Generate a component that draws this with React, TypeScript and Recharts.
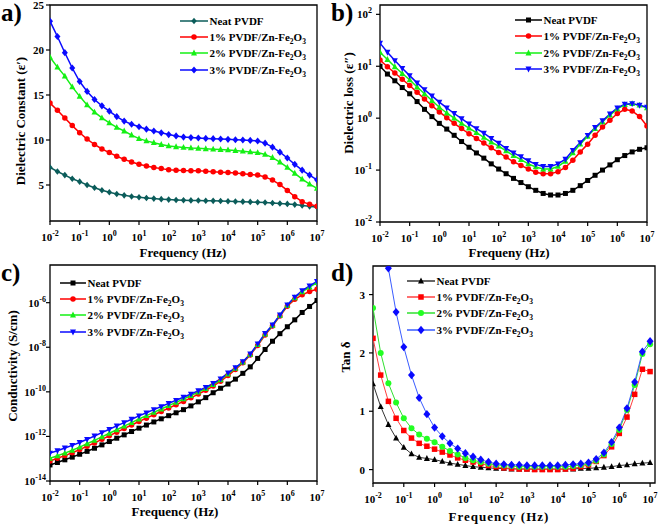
import { LineChart, Line, XAxis, YAxis, Legend, ReferenceArea } from 'recharts';

const SERIF = '"Liberation Serif", "Times New Roman", serif';

// log10 of the frequency (Hz), one reading every quarter decade
const FREQ_LOG = [
  -2, -1.75, -1.5, -1.25, -1, -0.75, -0.5, -0.25, 0, 0.25, 0.5, 0.75, 1, 1.25, 1.5, 1.75, 2, 2.25, 2.5,
  2.75, 3, 3.25, 3.5, 3.75, 4, 4.25, 4.5, 4.75, 5, 5.25, 5.5, 5.75, 6, 6.25, 6.5, 6.75, 7,
];
const X_TICKS = [-2, -1, 0, 1, 2, 3, 4, 5, 6, 7];
const SERIES_NAMES = ['Neat PVDF', '1% PVDF/Zn-Fe2O3', '2% PVDF/Zn-Fe2O3', '3% PVDF/Zn-Fe2O3'];

// a) dielectric constant
const EPS_NEAT = [6.95, 6.5, 6.1, 5.7, 5.37, 5.0, 4.7, 4.42, 4.19, 4.0, 3.85, 3.73, 3.64, 3.56, 3.49, 3.43, 3.38, 3.34, 3.31, 3.29, 3.27, 3.25, 3.24, 3.22, 3.2, 3.17, 3.15, 3.12, 3.09, 3.05, 3.0, 2.95, 2.9, 2.82, 2.72, 2.63, 2.54];
const EPS_1 = [14.1, 13.3, 12.45, 11.6, 10.8, 10.1, 9.5, 9.0, 8.6, 8.2, 7.85, 7.55, 7.3, 7.1, 6.95, 6.82, 6.7, 6.65, 6.6, 6.59, 6.58, 6.52, 6.47, 6.43, 6.4, 6.33, 6.25, 6.18, 6.1, 5.9, 5.55, 5.05, 4.4, 3.7, 3.15, 2.85, 2.65];
const EPS_2 = [19.2, 18.1, 17.1, 15.9, 14.85, 13.9, 13.1, 12.45, 11.9, 11.4, 11.0, 10.55, 10.15, 9.9, 9.7, 9.5, 9.34, 9.25, 9.18, 9.12, 9.08, 9.03, 8.98, 8.94, 8.9, 8.83, 8.76, 8.68, 8.6, 8.4, 8.05, 7.55, 6.95, 6.3, 5.65, 5.1, 4.64];
const EPS_3 = [23.2, 21.5, 19.7, 18.0, 16.5, 15.4, 14.5, 13.8, 13.2, 12.6, 12.1, 11.75, 11.47, 11.2, 11.0, 10.8, 10.6, 10.45, 10.33, 10.27, 10.22, 10.18, 10.15, 10.11, 10.07, 10.03, 10.0, 9.95, 9.89, 9.65, 9.2, 8.65, 8.0, 7.3, 6.65, 6.1, 5.58];

// b) dielectric loss, log10 values
const LOSS_NEAT = [1.0, 0.85, 0.72, 0.59, 0.47, 0.32, 0.17, 0.03, -0.1, -0.21, -0.33, -0.45, -0.56, -0.67, -0.77, -0.88, -0.98, -1.07, -1.16, -1.24, -1.32, -1.39, -1.45, -1.48, -1.48, -1.45, -1.39, -1.3, -1.2, -1.1, -1.0, -0.9, -0.8, -0.72, -0.65, -0.6, -0.57];
const LOSS_1 = [1.12, 0.99, 0.87, 0.75, 0.63, 0.5, 0.37, 0.24, 0.12, 0.01, -0.1, -0.2, -0.3, -0.39, -0.48, -0.57, -0.66, -0.75, -0.84, -0.91, -0.98, -1.04, -1.07, -1.07, -1.03, -0.95, -0.81, -0.65, -0.5, -0.33, -0.17, -0.04, 0.09, 0.17, 0.14, 0.03, -0.15];
const LOSS_2 = [1.27, 1.13, 0.99, 0.86, 0.74, 0.6, 0.47, 0.34, 0.21, 0.1, 0.0, -0.1, -0.19, -0.28, -0.37, -0.46, -0.54, -0.63, -0.72, -0.8, -0.88, -0.94, -0.98, -0.98, -0.93, -0.83, -0.67, -0.5, -0.35, -0.2, -0.07, 0.06, 0.18, 0.26, 0.28, 0.25, 0.2];
const LOSS_3 = [1.445, 1.27, 1.11, 0.96, 0.82, 0.68, 0.55, 0.43, 0.31, 0.2, 0.09, -0.01, -0.11, -0.2, -0.29, -0.39, -0.48, -0.58, -0.67, -0.74, -0.82, -0.89, -0.93, -0.93, -0.88, -0.79, -0.62, -0.47, -0.33, -0.18, -0.05, 0.08, 0.2, 0.27, 0.28, 0.25, 0.21];

// c) conductivity (S/cm), log10 values
const COND_NEAT = [-13.28, -13.17, -13.05, -12.93, -12.8, -12.67, -12.53, -12.38, -12.23, -12.08, -11.93, -11.78, -11.63, -11.49, -11.35, -11.21, -11.07, -10.94, -10.8, -10.63, -10.45, -10.26, -10.04, -9.84, -9.65, -9.43, -9.17, -8.88, -8.5, -8.1, -7.73, -7.39, -7.08, -6.77, -6.44, -6.17, -5.9];
const COND_1 = [-13.1, -12.98, -12.86, -12.73, -12.59, -12.44, -12.29, -12.13, -11.97, -11.81, -11.65, -11.49, -11.33, -11.18, -11.03, -10.88, -10.73, -10.58, -10.43, -10.27, -10.1, -9.93, -9.74, -9.52, -9.27, -9.0, -8.7, -8.35, -7.92, -7.45, -7.05, -6.6, -6.16, -5.85, -5.65, -5.5, -5.4];
const COND_2 = [-12.98, -12.87, -12.75, -12.62, -12.48, -12.33, -12.18, -12.02, -11.86, -11.7, -11.54, -11.38, -11.22, -11.07, -10.92, -10.77, -10.62, -10.47, -10.32, -10.17, -10.01, -9.85, -9.67, -9.46, -9.2, -8.95, -8.67, -8.32, -7.88, -7.41, -7.02, -6.57, -6.12, -5.78, -5.52, -5.3, -5.1];
const COND_3 = [-12.75, -12.64, -12.52, -12.4, -12.27, -12.13, -11.98, -11.83, -11.68, -11.53, -11.38, -11.23, -11.08, -10.94, -10.8, -10.66, -10.52, -10.38, -10.24, -10.1, -9.95, -9.8, -9.62, -9.42, -9.15, -8.92, -8.65, -8.3, -7.85, -7.38, -7.0, -6.55, -6.1, -5.75, -5.46, -5.25, -5.05];

// d) tan delta
const TAN_NEAT = [1.47, 1.08, 0.77, 0.54, 0.38, 0.27, 0.21, 0.19, 0.17, 0.14, 0.11, 0.09, 0.07, 0.05, 0.04, 0.03, 0.02, 0.02, 0.01, 0.01, 0.01, 0.01, 0.01, 0.01, 0.01, 0.01, 0.01, 0.02, 0.02, 0.03, 0.04, 0.05, 0.07, 0.08, 0.1, 0.11, 0.12];
const TAN_1 = [2.25, 1.62, 1.17, 0.88, 0.67, 0.54, 0.45, 0.4, 0.35, 0.3, 0.25, 0.2, 0.16, 0.13, 0.1, 0.07, 0.05, 0.03, 0.02, 0.01, 0.01, 0.0, 0.0, 0.0, 0.0, 0.01, 0.02, 0.05, 0.08, 0.14, 0.24, 0.39, 0.62, 0.9, 1.29, 1.72, 1.68];
const TAN_2 = [2.77, 2.0, 1.48, 1.15, 0.88, 0.71, 0.6, 0.53, 0.47, 0.39, 0.32, 0.26, 0.2, 0.16, 0.13, 0.1, 0.08, 0.07, 0.06, 0.05, 0.05, 0.05, 0.05, 0.05, 0.05, 0.05, 0.06, 0.08, 0.1, 0.15, 0.26, 0.44, 0.68, 1.02, 1.45, 1.98, 2.15];
const TAN_3 = [4.6, 4.0, 3.45, 2.7, 2.1, 1.62, 1.23, 0.95, 0.72, 0.57, 0.45, 0.36, 0.28, 0.22, 0.17, 0.13, 0.1, 0.09, 0.08, 0.08, 0.07, 0.07, 0.07, 0.07, 0.07, 0.08, 0.09, 0.1, 0.12, 0.18, 0.29, 0.47, 0.72, 1.05, 1.5, 2.02, 2.2];

type Shape = 'circle' | 'square' | 'up' | 'down' | 'diamond';
interface SeriesStyle {
  color: string;
  line: string;
  shape: Shape;
  size: number;
}

const Marker = ({ cx, cy, shape, size, color }: { cx: number; cy: number; shape: Shape; size: number; color: string }) => {
  const h = size / 2;
  if (cx == null || cy == null) return null;
  switch (shape) {
    case 'circle':
      return <circle cx={cx} cy={cy} r={h} fill={color} />;
    case 'square':
      return <rect x={cx - h} y={cy - h} width={size} height={size} fill={color} />;
    case 'up':
      return <polygon points={`${cx},${cy - h * 1.15} ${cx + h},${cy + h * 0.8} ${cx - h},${cy + h * 0.8}`} fill={color} />;
    case 'down':
      return <polygon points={`${cx},${cy + h * 1.15} ${cx + h},${cy - h * 0.8} ${cx - h},${cy - h * 0.8}`} fill={color} />;
    default:
      return <polygon points={`${cx},${cy - h * 1.2} ${cx + h},${cy} ${cx},${cy + h * 1.2} ${cx - h},${cy}`} fill={color} />;
  }
};

const chem = (s: string) =>
  s.split(/(?<=[A-Za-z])(\d)/).map((part, i) =>
    i % 2 ? (
      <span key={i} style={{ fontSize: 7.5, position: 'relative', top: 3 }}>{part}</span>
    ) : (
      <span key={i}>{part}</span>
    ),
  );

const toRows = (cols: number[][]) =>
  FREQ_LOG.map((f, i) => ({ f, s0: cols[0][i], s1: cols[1][i], s2: cols[2][i], s3: cols[3][i] }));

const XTick = (props: any) => {
  const { x, y, payload } = props;
  return (
    <text x={x} y={y + 13.5} textAnchor="middle" fontFamily={SERIF} fontWeight={700} fontSize={11} fill="#000">
      <tspan>10</tspan>
      <tspan dy={-5} fontSize={8}>{payload.value}</tspan>
    </text>
  );
};

const LinYTick = (props: any) => {
  const { x, y, payload } = props;
  return (
    <text x={x} y={y + 4} textAnchor="end" fontFamily={SERIF} fontWeight={700} fontSize={11} fill="#000">
      {payload.value}
    </text>
  );
};

const LogYTick = (props: any) => {
  const { x, y, payload } = props;
  return (
    <text x={x} y={y + 4} textAnchor="end" fontFamily={SERIF} fontWeight={700} fontSize={11} fill="#000">
      <tspan>10</tspan>
      <tspan dy={-5} fontSize={8}>{payload.value}</tspan>
    </text>
  );
};

interface PanelProps {
  left: number;
  top: number;
  width: number;
  height: number;
  margin: { top: number; right: number; bottom: number; left: number };
  yAxisWidth: number;
  yGap: number;
  cols: number[][];
  series: SeriesStyle[];
  lineWidth: number;
  xDomain: [number, number];
  yDomain: [number, number];
  yTicks: number[];
  yLog: boolean;
  xTitle: string;
  xTitlePos: [number, number];
  xTitleSpacing?: number;
  yTitle: string;
  yTitlePos: [number, number];
  letter: string;
  legendPos: [number, number];
  legendLine: number;
}

const Panel = (p: PanelProps) => {
  const rows = toRows(p.cols);
  const legend = () => (
    <div style={{ fontFamily: SERIF, fontWeight: 700, fontSize: 11, color: '#000' }}>
      {p.series.map((s, i) => (
        <div key={i} style={{ display: 'flex', alignItems: 'center', height: 16.3, whiteSpace: 'nowrap' }}>
          <svg width={p.legendLine} height={12} style={{ overflow: 'visible' }}>
            <line x1={0} x2={p.legendLine} y1={6} y2={6} stroke={s.line} strokeWidth={1.5} />
            <Marker cx={p.legendLine / 2} cy={6} shape={s.shape} size={s.size} color={s.color} />
          </svg>
          <span style={{ marginLeft: 1.5 }}>{chem(SERIES_NAMES[i])}</span>
        </div>
      ))}
    </div>
  );
  return (
    <div style={{ position: 'absolute', left: p.left, top: p.top, width: p.width, height: p.height }}>
      <LineChart width={p.width} height={p.height} data={rows} margin={p.margin}>
        <XAxis
          dataKey="f"
          type="number"
          domain={p.xDomain}
          ticks={X_TICKS}
          interval={0}
          allowDataOverflow
          axisLine={false}
          tickLine={{ stroke: '#000', strokeWidth: 1.2 }}
          tickSize={4}
          height={30}
          tick={XTick}
          label={{
            value: p.xTitle,
            content: () => (
              <text
                x={p.xTitlePos[0]}
                y={p.xTitlePos[1]}
                textAnchor="middle"
                fontFamily={SERIF}
                fontWeight={700}
                fontSize={13}
                letterSpacing={p.xTitleSpacing ?? 0}
                fill="#000"
              >
                {p.xTitle}
              </text>
            ),
          }}
        />
        <YAxis
          type="number"
          domain={p.yDomain}
          ticks={p.yTicks}
          interval={0}
          allowDataOverflow
          width={p.yAxisWidth}
          axisLine={false}
          tickLine={{ stroke: '#000', strokeWidth: 1.2 }}
          tickSize={4}
          tickMargin={p.yGap}
          tick={p.yLog ? LogYTick : LinYTick}
          label={{
            value: p.yTitle,
            content: () => (
              <text
                transform={`translate(${p.yTitlePos[0]},${p.yTitlePos[1]}) rotate(-90)`}
                textAnchor="middle"
                dominantBaseline="central"
                fontFamily={SERIF}
                fontWeight={700}
                fontSize={13}
                fill="#000"
              >
                {p.yTitle}
              </text>
            ),
          }}
        />
        <ReferenceArea
          x1={p.xDomain[0]}
          x2={p.xDomain[1]}
          y1={p.yDomain[0]}
          y2={p.yDomain[1]}
          fill="none"
          stroke="#000"
          strokeWidth={1.3}
          ifOverflow="visible"
        />
        {p.series.map((s, i) => (
          <Line
            key={i}
            dataKey={`s${i}`}
            name={SERIES_NAMES[i]}
            type="linear"
            stroke={s.line}
            strokeWidth={p.lineWidth}
            activeDot={false}
            isAnimationActive={false}
            dot={(d: any) => <Marker key={`m-${i}-${d.index}`} cx={d.cx} cy={d.cy} shape={s.shape} size={s.size} color={s.color} />}
          />
        ))}
        <Legend
          layout="vertical"
          align="center"
          verticalAlign="middle"
          content={legend}
          wrapperStyle={{ left: p.legendPos[0], top: p.legendPos[1], width: 'auto' }}
        />
      </LineChart>
      <div
        style={{
          position: 'absolute',
          left: 1,
          top: 0,
          fontFamily: SERIF,
          fontWeight: 700,
          fontSize: 25,
          lineHeight: 1,
          color: '#000',
          pointerEvents: 'none',
        }}
      >
        {p.letter}
      </div>
    </div>
  );
};

const TEAL = '#0b5c5a';
const RED = '#ff0000';
const GREEN = '#14f014';
const BLUE = '#0a0aff';

const STYLE_A: SeriesStyle[] = [
  { color: TEAL, line: TEAL, shape: 'diamond', size: 5.5 },
  { color: RED, line: RED, shape: 'circle', size: 5.5 },
  { color: GREEN, line: GREEN, shape: 'up', size: 6 },
  { color: BLUE, line: BLUE, shape: 'diamond', size: 6 },
];
const STYLE_BC: SeriesStyle[] = [
  { color: '#000', line: '#000', shape: 'square', size: 5 },
  { color: RED, line: RED, shape: 'circle', size: 5.5 },
  { color: GREEN, line: GREEN, shape: 'up', size: 6 },
  { color: BLUE, line: BLUE, shape: 'down', size: 6 },
];
const STYLE_D: SeriesStyle[] = [
  { color: '#000', line: '#333', shape: 'up', size: 6 },
  { color: RED, line: '#ff4040', shape: 'square', size: 5.5 },
  { color: '#22ff22', line: '#30e030', shape: 'circle', size: 6 },
  { color: BLUE, line: '#3a5cff', shape: 'diamond', size: 7 },
];

export default function App() {
  return (
    <div style={{ position: 'absolute', left: 0, top: 0, width: 661, height: 524, background: '#fff', overflow: 'hidden' }}>
      <Panel
        left={0}
        top={0}
        width={330}
        height={262}
        margin={{ top: 5, right: 13, bottom: 11, left: 0 }}
        yAxisWidth={50}
        yGap={2}
        cols={[EPS_NEAT, EPS_1, EPS_2, EPS_3]}
        series={STYLE_A}
        lineWidth={1.5}
        xDomain={[-2, 7]}
        yDomain={[1, 25]}
        yTicks={[5, 10, 15, 20, 25]}
        yLog={false}
        xTitle="Frequency (Hz)"
        xTitlePos={[183, 256.5]}
        yTitle="Dielectric Constant (ε′)"
        yTitlePos={[20, 121]}
        letter="a)"
        legendPos={[180, 12.5]}
        legendLine={28}
      />
      <Panel
        left={330}
        top={0}
        width={331}
        height={262}
        margin={{ top: 5, right: 14, bottom: 10, left: 0 }}
        yAxisWidth={50}
        yGap={4}
        cols={[LOSS_NEAT, LOSS_1, LOSS_2, LOSS_3]}
        series={STYLE_BC}
        lineWidth={1.5}
        xDomain={[-2, 7]}
        yDomain={[-2, 2.18]}
        yTicks={[-2, -1, 0, 1, 2]}
        yLog
        xTitle="Frequeny (Hz)"
        xTitlePos={[179, 256.5]}
        yTitle="Dielectric loss (ε″)"
        yTitlePos={[18, 103]}
        letter="b)"
        legendPos={[185, 12]}
        legendLine={27}
      />
      <Panel
        left={0}
        top={260}
        width={330}
        height={264}
        margin={{ top: 5, right: 13, bottom: 13, left: 0 }}
        yAxisWidth={50}
        yGap={0}
        cols={[COND_NEAT, COND_1, COND_2, COND_3]}
        series={STYLE_BC}
        lineWidth={1.5}
        xDomain={[-2, 7]}
        yDomain={[-14, -4.31]}
        yTicks={[-14, -12, -10, -8, -6]}
        yLog
        xTitle="Frequency (Hz)"
        xTitlePos={[175, 256]}
        yTitle="Conductivity (S/cm)"
        yTitlePos={[12, 106]}
        letter="c)"
        legendPos={[60, 14.5]}
        legendLine={26}
      />
      <Panel
        left={330}
        top={260}
        width={331}
        height={264}
        margin={{ top: 6, right: 6, bottom: 11, left: 0 }}
        yAxisWidth={43}
        yGap={4}
        cols={[TAN_NEAT, TAN_1, TAN_2, TAN_3]}
        series={STYLE_D}
        lineWidth={1}
        xDomain={[-2, 7.16]}
        yDomain={[-0.23, 3.49]}
        yTicks={[0, 1, 2, 3]}
        yLog={false}
        xTitle="Frequency (Hz)"
        xTitlePos={[169, 261]}
        xTitleSpacing={1}
        yTitle="Tan δ"
        yTitlePos={[15, 97]}
        letter="d)"
        legendPos={[77, 12.5]}
        legendLine={28}
      />
    </div>
  );
}
